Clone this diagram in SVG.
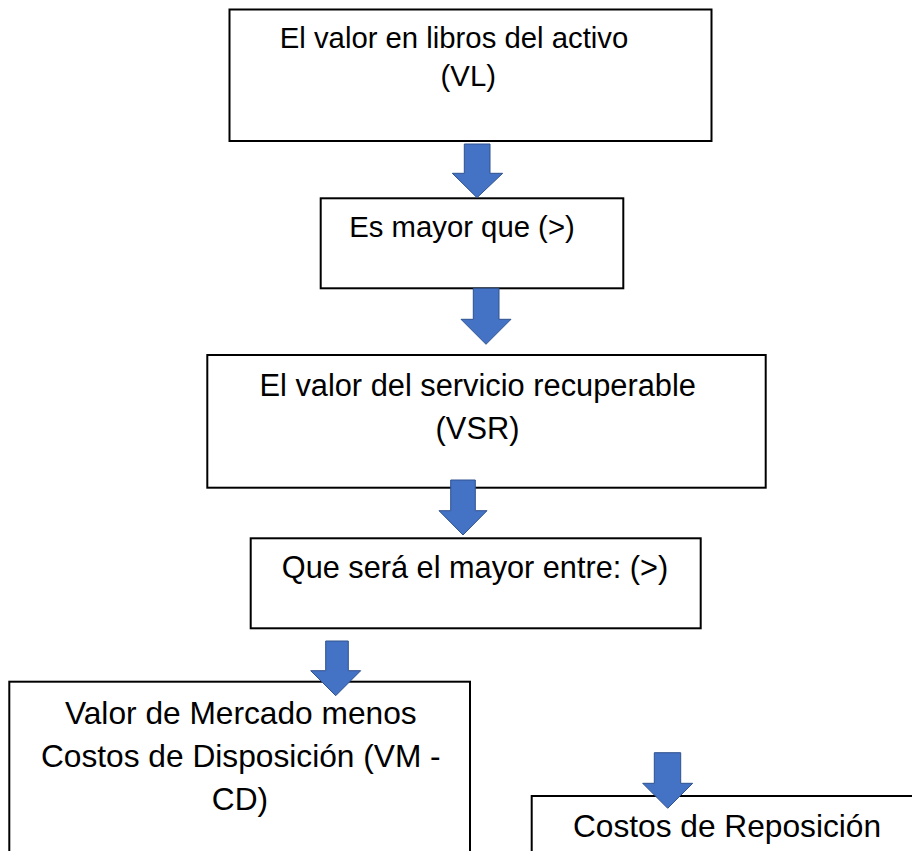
<svg xmlns="http://www.w3.org/2000/svg" width="912" height="851" viewBox="0 0 912 851">
<style>
.box{fill:#ffffff;stroke:#000000;stroke-width:2}
.t{font-family:"Liberation Sans",Arial,sans-serif;fill:#000000;text-anchor:middle}
.arr{fill:#4472C4;stroke:#2F528F;stroke-width:1;stroke-linejoin:miter}
</style>
<rect width="912" height="851" fill="#ffffff"/>
<g id="n1">
<rect class="box" x="229.5" y="9.5" width="482" height="131.5"/>
<text class="t" x="454" y="48" font-size="29.3">El valor en libros del activo</text>
<text class="t" x="468.3" y="86" font-size="29.3">(VL)</text>
</g>
<g id="n2">
<rect class="box" x="320.7" y="198.3" width="302.6" height="90"/>
<text class="t" x="462" y="236.7" font-size="29.3">Es mayor que (&gt;)</text>
</g>
<g id="n3">
<rect class="box" x="207.3" y="355" width="558.4" height="132.7"/>
<text class="t" x="477.7" y="396" font-size="30.8">El valor del servicio recuperable</text>
<text class="t" x="477.5" y="439" font-size="30.8">(VSR)</text>
</g>
<g id="n4">
<rect class="box" x="250.7" y="538.3" width="450" height="90"/>
<text class="t" x="475" y="578" font-size="30.7">Que será el mayor entre: (&gt;)</text>
</g>
<g id="n5">
<rect class="box" x="9.3" y="681.7" width="460.7" height="200"/>
<text class="t" x="240.8" y="724" font-size="31.7">Valor de Mercado menos</text>
<text class="t" x="240.8" y="767" font-size="31.7">Costos de Disposición (VM -</text>
<text class="t" x="240" y="810" font-size="31.7">CD)</text>
</g>
<g id="n6">
<rect class="box" x="531.7" y="796" width="400" height="100"/>
<text class="t" x="727" y="837" font-size="31.7">Costos de Reposición</text>
</g>
<g id="connectors">
<path class="arr" d="M464.3,144 H490 V173.3 H502.7 L477,197.7 L452.3,173.3 H464.3 Z"/>
<path class="arr" d="M473.3,288.3 H499 V319.3 H511 L486,344.3 L461,319.3 H473.3 Z"/>
<path class="arr" d="M450.7,480 H475.3 V510.7 H487 L463,535 L439,510.7 H450.7 Z"/>
<path class="arr" d="M325.7,641 H348.3 V670.7 H360.7 L335.7,695.7 L310.7,670.7 H325.7 Z"/>
<path class="arr" d="M654.3,752.7 H680.7 V783.3 H692.7 L667.7,808.3 L642.7,783.3 H654.3 Z"/>
</g>
</svg>
